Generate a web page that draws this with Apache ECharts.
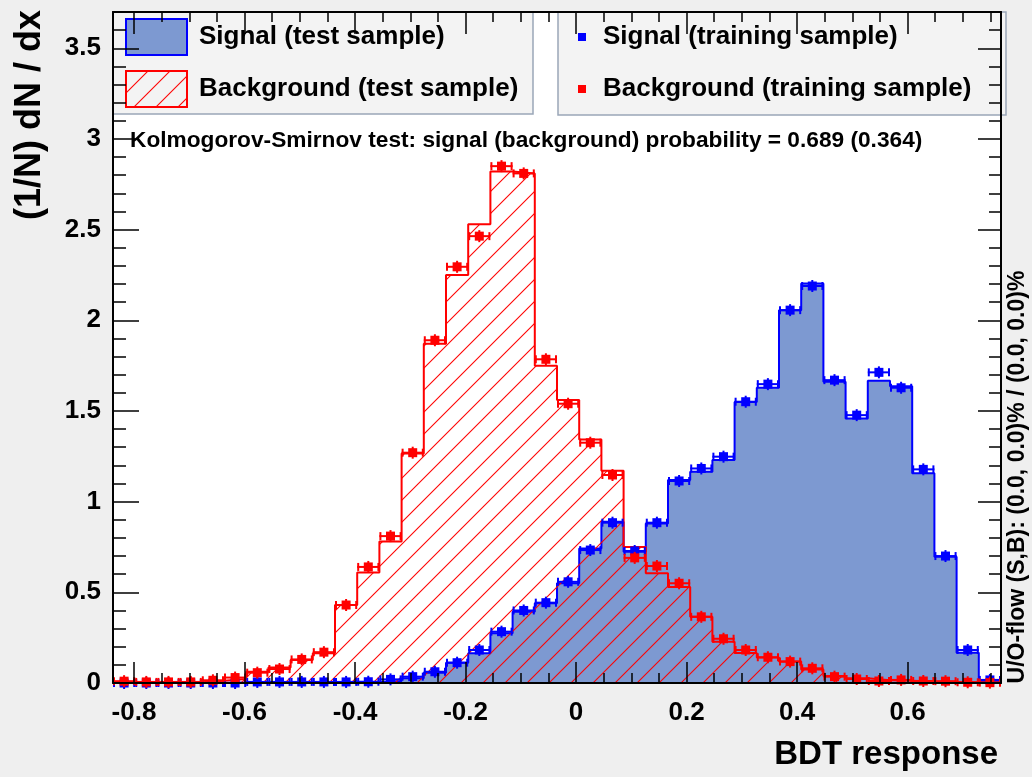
<!DOCTYPE html>
<html>
<head>
<meta charset="utf-8">
<script src="https://cdn.jsdelivr.net/npm/echarts@6/dist/echarts.min.js"></script>
<style>
html,body{margin:0;padding:0;background:#efefef;}
#chart{width:1032px;height:777px;}
</style>
</head>
<body>
<div id="chart"></div>
<script>
// ---- data ----
const xMin = -0.838;
const xMax = 0.769;
const nBins = 40;
const yMin = 0;
const yMax = 3.7;
const xTickValues = [-0.8, -0.6, -0.4, -0.2, 0, 0.2, 0.4, 0.6];
const yTickValues = [0, 0.5, 1, 1.5, 2, 2.5, 3, 3.5];
const xMinorStep = 0.05;
const yMinorStep = 0.1;

const signalTest = [0,0,0,0,0.002,0.003,0.003,0.003,0.003,0.003,0.003,0.005,0.011,0.026,0.057,0.112,0.164,0.274,0.393,0.44,0.55,0.742,0.889,0.724,0.88,1.119,1.165,1.229,1.55,1.628,2.056,2.203,1.661,1.459,1.667,1.637,1.156,0.696,0.167,0.011];
const backgroundTest = [0.004,0.004,0.004,0.004,0.012,0.022,0.062,0.086,0.127,0.164,0.43,0.61,0.78,1.266,1.87,2.25,2.53,2.82,2.81,1.75,1.56,1.343,1.17,0.75,0.605,0.53,0.365,0.228,0.165,0.14,0.118,0.075,0.038,0.026,0.015,0.012,0.008,0.006,0.004,0.003];
const signalTrain = [0,0,0,0,0,0,0.006,0.006,0.006,0.006,0.006,0.007,0.02,0.035,0.062,0.112,0.182,0.283,0.40,0.443,0.558,0.733,0.884,0.728,0.884,1.114,1.183,1.248,1.551,1.648,2.056,2.189,1.67,1.477,1.713,1.628,1.178,0.70,0.182,0.017];
const backgroundTrain = [0.01,0.006,0.006,0.006,0.015,0.03,0.057,0.077,0.13,0.17,0.43,0.64,0.81,1.27,1.89,2.295,2.464,2.85,2.81,1.785,1.54,1.325,1.147,0.69,0.645,0.55,0.365,0.244,0.182,0.142,0.118,0.081,0.035,0.022,0.011,0.017,0.011,0.01,0.004,0.002];

const seriesNames = ['Signal (test sample)', 'Background (test sample)', 'Signal (training sample)', 'Background (training sample)'];
const xTitle = 'BDT response';
const yTitle = '(1/N) dN / dx';
const ksText = 'Kolmogorov-Smirnov test: signal (background) probability = 0.689 (0.364)';
const flowText = 'U/O-flow (S,B): (0.0, 0.0)% / (0.0, 0.0)%';

// ---- helpers ----
const FONT = '"Liberation Sans", Arial, Helvetica, sans-serif';
const binWidth = (xMax - xMin) / nBins;
const edge = i => xMin + i * binWidth;
function stepData(vals) {
  const d = [[edge(0), 0]];
  vals.forEach((v, i) => d.push([edge(i), v]));
  d.push([edge(nBins), vals[nBins - 1]]);
  d.push([edge(nBins), 0]);
  return d;
}
function pointData(vals) {
  return vals.map((v, i) => [edge(i) + binWidth / 2, v, edge(i), edge(i + 1)]);
}
function minorTicks(lo, hi, step) {
  const out = [];
  for (let k = Math.ceil(lo / step - 1e-9); k * step <= hi + 1e-9; k++) out.push(Math.round(k * step * 1000) / 1000);
  return out;
}
const xMinor = minorTicks(xMin, xMax, xMinorStep);
const yMinor = minorTicks(yMin, yMax, yMinorStep);

function makeHatch() {
  const s = 22;
  const cv = document.createElement('canvas');
  cv.width = s; cv.height = s;
  const ctx = cv.getContext('2d');
  ctx.strokeStyle = '#ff0000';
  ctx.lineWidth = 1.1;
  for (const k of [0, 1, 2]) {
    ctx.beginPath();
    ctx.moveTo(k * s - s - 2, s + 2);
    ctx.lineTo(k * s + 2, -2);
    ctx.stroke();
  }
  return { image: cv, repeat: 'repeat' };
}
const hatch = makeHatch();

const SIG_FILL = '#7d99d1';
const SIG_LINE = '#0000ff';
const BKG_LINE = '#ff0000';

function pointRenderer(col) {
  return function (params, api) {
    const c = api.coord([api.value(0), api.value(1)]);
    const l = api.coord([api.value(2), api.value(1)]);
    const r = api.coord([api.value(3), api.value(1)]);
    const st = { stroke: col, lineWidth: 2 };
    return {
      type: 'group',
      children: [
        { type: 'line', shape: { x1: l[0], y1: c[1], x2: r[0], y2: c[1] }, style: st },
        { type: 'line', shape: { x1: l[0] + 1, y1: c[1] - 4, x2: l[0] + 1, y2: c[1] + 4 }, style: st },
        { type: 'line', shape: { x1: r[0] - 1, y1: c[1] - 4, x2: r[0] - 1, y2: c[1] + 4 }, style: st },
        { type: 'line', shape: { x1: c[0], y1: c[1] - 6, x2: c[0], y2: c[1] + 6 }, style: st },
        { type: 'rect', shape: { x: c[0] - 4.5, y: c[1] - 4.5, width: 9, height: 9 }, style: { fill: col } }
      ]
    };
  };
}

const black = '#000';
function xAxisDef(pos, major) {
  return {
    type: 'value', min: xMin, max: xMax, position: pos, z: 6,
    splitLine: { show: false },
    axisLine: { show: major, onZero: false, lineStyle: { color: black, width: 2 } },
    axisTick: {
      show: true, inside: true,
      length: major ? (pos === 'bottom' ? 21 : 22) : 10,
      customValues: major ? xTickValues : xMinor,
      lineStyle: { color: black, width: 1.5 }
    },
    axisLabel: (major && pos === 'bottom') ? {
      show: true, customValues: xTickValues, margin: 17,
      fontSize: 26, fontWeight: 'bold', fontFamily: FONT, color: black
    } : { show: false }
  };
}
function yAxisDef(pos, major) {
  return {
    type: 'value', min: yMin, max: yMax, position: pos, z: 6,
    splitLine: { show: false },
    axisLine: { show: major, onZero: false, lineStyle: { color: black, width: 2 } },
    axisTick: {
      show: true, inside: true,
      length: major ? (pos === 'left' ? 26 : 23) : (pos === 'left' ? 13 : 12),
      customValues: major ? yTickValues : yMinor,
      lineStyle: { color: black, width: 1.5 }
    },
    axisLabel: (major && pos === 'left') ? {
      show: true, customValues: yTickValues, margin: 12,
      fontSize: 26, fontWeight: 'bold', fontFamily: FONT, color: black
    } : { show: false }
  };
}

const legendText = { fontSize: 26, fontWeight: 'bold', fontFamily: FONT, color: black, overflow: 'none' };

const option = {
  animation: false,
  backgroundColor: '#efefef',
  textStyle: { fontFamily: FONT },
  grid: {
    left: 113, top: 12, width: 888, height: 671,
    show: true, backgroundColor: '#ffffff', borderWidth: 0,
    containLabel: false, outerBoundsMode: 'none'
  },
  xAxis: [xAxisDef('bottom', true), xAxisDef('bottom', false), xAxisDef('top', true), xAxisDef('top', false)],
  yAxis: [yAxisDef('left', true), yAxisDef('left', false), yAxisDef('right', true), yAxisDef('right', false)],
  legend: [
    {
      orient: 'vertical', left: 113, top: 12,
      padding: [6, 10, 6, 12], itemGap: 14, itemWidth: 61, itemHeight: 36,
      backgroundColor: '#f3f3f3', borderColor: '#9aa6b8', borderWidth: 1.5,
      selectedMode: false,
      textStyle: Object.assign({}, legendText, { lineHeight: 32, padding: [0, 0, 4, 7], width: 324 }),
      data: [
        { name: seriesNames[0], icon: 'rect', itemStyle: { color: SIG_FILL, borderColor: SIG_LINE, borderWidth: 2 } },
        { name: seriesNames[1], icon: 'rect', itemStyle: { color: hatch, borderColor: BKG_LINE, borderWidth: 2 } }
      ]
    },
    {
      orient: 'vertical', left: 558, top: 12,
      padding: [7, 10, 8, 20], itemGap: 16, itemWidth: 8, itemHeight: 8,
      backgroundColor: '#f3f3f3', borderColor: '#9aa6b8', borderWidth: 1.5,
      selectedMode: false,
      textStyle: Object.assign({}, legendText, { lineHeight: 34, padding: [0, 0, 2, 12], width: 393 }),
      data: [
        { name: seriesNames[2], icon: 'rect', itemStyle: { color: SIG_LINE } },
        { name: seriesNames[3], icon: 'rect', itemStyle: { color: BKG_LINE } }
      ]
    }
  ],
  graphic: [
    {
      type: 'text', x: 130, y: 140.5, z: 10,
      style: { text: ksText, font: 'bold 22.7px ' + FONT, fill: black, align: 'left', verticalAlign: 'middle' }
    },
    {
      type: 'text', x: 998, y: 755, z: 10,
      style: { text: xTitle, font: 'bold 33px ' + FONT, fill: black, align: 'right', verticalAlign: 'middle' }
    },
    {
      type: 'text', x: 30, y: 115, rotation: Math.PI / 2, z: 10,
      style: { text: yTitle, font: 'bold 36px ' + FONT, fill: black, align: 'center', verticalAlign: 'middle' }
    },
    {
      type: 'text', x: 1018, y: 477, rotation: Math.PI / 2, z: 10,
      style: { text: flowText, font: 'bold 23px ' + FONT, fill: black, align: 'center', verticalAlign: 'middle' }
    }
  ],
  series: [
    {
      name: seriesNames[0], type: 'line', xAxisIndex: 0, yAxisIndex: 0,
      data: stepData(signalTest), step: 'end', symbol: 'none', z: 2,
      lineStyle: { color: SIG_LINE, width: 2 },
      itemStyle: { color: SIG_FILL },
      areaStyle: { color: SIG_FILL, opacity: 1 }
    },
    {
      name: seriesNames[1], type: 'line', xAxisIndex: 0, yAxisIndex: 0,
      data: stepData(backgroundTest), step: 'end', symbol: 'none', z: 3,
      lineStyle: { color: BKG_LINE, width: 2 },
      itemStyle: { color: BKG_LINE },
      areaStyle: { color: hatch, opacity: 1 }
    },
    {
      name: seriesNames[2], type: 'custom', xAxisIndex: 0, yAxisIndex: 0, z: 4,
      data: pointData(signalTrain), encode: { x: 0, y: 1 },
      itemStyle: { color: SIG_LINE },
      renderItem: pointRenderer(SIG_LINE)
    },
    {
      name: seriesNames[3], type: 'custom', xAxisIndex: 0, yAxisIndex: 0, z: 5,
      data: pointData(backgroundTrain), encode: { x: 0, y: 1 },
      itemStyle: { color: BKG_LINE },
      renderItem: pointRenderer(BKG_LINE)
    }
  ]
};

const chart = echarts.init(document.getElementById('chart'), null, { renderer: 'canvas' });
chart.setOption(option);
</script>
</body>
</html>
